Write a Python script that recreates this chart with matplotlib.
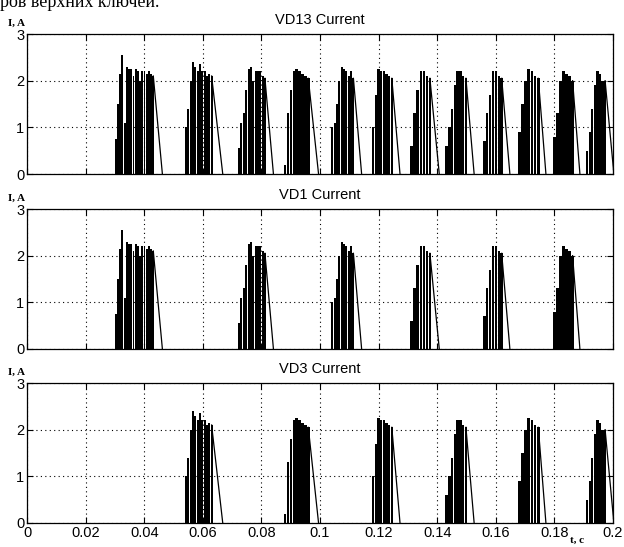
import numpy as np
import matplotlib
matplotlib.use("Agg")
import matplotlib.pyplot as plt

# ---- data ----
titles = ["VD13 Current", "VD1 Current", "VD3 Current"]
x_ticks = [0, 0.02, 0.04, 0.06, 0.08, 0.1, 0.12, 0.14, 0.16, 0.18, 0.2]
x_tick_labels = ["0", "0.02", "0.04", "0.06", "0.08", "0.1", "0.12", "0.14", "0.16", "0.18", "0.2"]
y_ticks = [0, 1, 2, 3]

# VD1 conduction bursts
vd1_start = [0.0303, 0.0724, 0.1042, 0.1313, 0.1561, 0.1800]
vd1_spike_end = [0.0431, 0.0812, 0.1114, 0.1375, 0.1620, 0.1862]
vd1_zero = [0.0462, 0.0841, 0.1142, 0.1407, 0.1648, 0.1887]
vd1_peaks = [
    [0.75, 1.5, 2.15, 2.55, 1.1, 2.3, 2.25, 2.25, 2.1, 2.25, 2.2, 2.0, 2.2, 2.2, 2.15, 2.2, 2.15, 2.1],
    [0.55, 1.1, 1.3, 1.8, 2.25, 2.3, 2.0, 2.2, 2.2, 2.2, 2.1, 2.05],
    [1.0, 1.1, 1.5, 2.0, 2.3, 2.25, 2.2, 2.1, 2.2, 2.05],
    [0.6, 1.3, 1.8, 2.2, 2.2, 2.1, 2.05],
    [0.7, 1.3, 1.7, 2.2, 2.2, 2.1, 2.05],
    [0.8, 1.3, 2.0, 2.2, 2.15, 2.1, 2.0],
]

# VD3 conduction bursts
vd3_start = [0.0542, 0.0881, 0.1182, 0.1432, 0.1680, 0.1912]
vd3_spike_end = [0.0630, 0.0960, 0.1245, 0.1498, 0.1745, 0.1973]
vd3_zero = [0.0668, 0.0995, 0.1273, 0.1526, 0.1771, 0.2003]
vd3_peaks = [
    [1.0, 1.4, 2.0, 2.4, 2.3, 2.2, 2.35, 2.2, 2.2, 2.1, 2.15, 2.1],
    [0.2, 1.3, 1.8, 2.2, 2.25, 2.2, 2.15, 2.1, 2.05],
    [1.0, 1.7, 2.25, 2.2, 2.2, 2.15, 2.1, 2.05],
    [0.6, 1.0, 1.4, 1.9, 2.2, 2.2, 2.1, 2.05],
    [0.9, 1.5, 2.0, 2.25, 2.2, 2.1, 2.05],
    [0.5, 0.9, 1.4, 1.9, 2.2, 2.15, 2.0, 2.0],
]

vd1 = (vd1_start, vd1_spike_end, vd1_zero, vd1_peaks)
vd3 = (vd3_start, vd3_spike_end, vd3_zero, vd3_peaks)
vd13 = tuple(a + b for a, b in zip(vd1, vd3))
series = [vd13, vd1, vd3]

plt.rcParams["font.family"] = ["Liberation Sans", "DejaVu Sans"]

fig = plt.figure(figsize=(6.24, 5.47), dpi=100)
fig.patch.set_facecolor("white")

fig.text(0.0, 0.987, "ров верхних ключей.", family="Liberation Serif",
         fontsize=13, va="baseline", ha="left")

positions = [
    [0.0433, 0.6819, 0.9391, 0.2559],
    [0.0433, 0.3620, 0.9391, 0.2559],
    [0.0433, 0.0439, 0.9391, 0.2559],
]

for i, (pos, title, data) in enumerate(zip(positions, titles, series)):
    ax = fig.add_axes(pos)
    starts, ends, zeros, peaks = data
    for s, e, z, p in zip(starts, ends, zeros, peaks):
        t = np.linspace(s, e, len(p))
        step = (e - s) / max(len(p) - 1, 1)
        ax.bar(t, p, width=step * 0.85, color="black", linewidth=0, align="center")
        ax.plot([e, z], [p[-1], 0], color="black", lw=0.9)
    ax.set_xlim(0, 0.2)
    ax.set_ylim(0, 3)
    ax.set_xticks(x_ticks)
    ax.set_yticks(y_ticks)
    ax.set_yticklabels([str(v) for v in y_ticks], fontsize=10.5)
    if i == 2:
        ax.set_xticklabels(x_tick_labels, fontsize=10.5)
    else:
        ax.set_xticklabels([])
    ax.tick_params(direction="in", top=True, right=True, length=4, width=0.8, pad=2)
    ax.grid(True, color="black", linestyle=(0, (1, 3)), linewidth=0.8)
    ax.set_axisbelow(False)
    for sp in ax.spines.values():
        sp.set_linewidth(0.9)
        sp.set_color("black")
    ax.set_title(title, fontsize=10.5, pad=7)
    fig.text(0.013, pos[1] + pos[3] + 0.012, "I, A", family="Liberation Serif",
             fontsize=8, fontweight="bold", ha="left", va="bottom")

fig.text(0.925, 0.004, "t, c", family="Liberation Serif", fontsize=8,
         fontweight="bold", ha="center", va="bottom")

fig.savefig("out.png", dpi=100)
